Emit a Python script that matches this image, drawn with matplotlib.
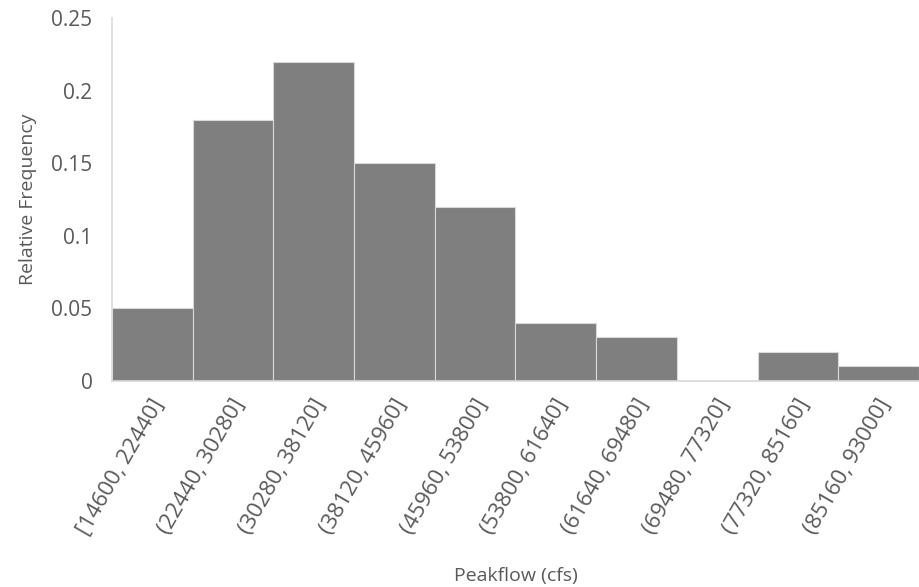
import matplotlib
matplotlib.use("Agg")
import matplotlib.pyplot as plt
import matplotlib.transforms as mtransforms
import numpy as np

plt.rcParams.update({
    'font.family': ['Open Sans', 'DejaVu Sans'],
    'text.color': '#595959',
})

bins = ['[14600, 22440]', '(22440, 30280]', '(30280, 38120]', '(38120, 45960]',
        '(45960, 53800]', '(53800, 61640]', '(61640, 69480]', '(69480, 77320]',
        '(77320, 85160]', '(85160, 93000]']
rel_freq = [0.05, 0.18, 0.22, 0.15, 0.12, 0.04, 0.03, 0.0, 0.02, 0.01]
yticks = [0, 0.05, 0.1, 0.15, 0.2, 0.25]
ytick_labels = ['0', '0.05', '0.1', '0.15', '0.2', '0.25']

fig = plt.figure(figsize=(9.19, 5.87), dpi=100)
ax = fig.add_axes([0.1219, 0.351, 0.878, 0.618])

x = np.arange(len(bins))
ax.bar(x, rel_freq, width=1.0, color='#7f7f7f', edgecolor='#d9d9d9', linewidth=0.8)
ax.set_xlim(-0.5, len(bins) - 0.5)
ax.set_ylim(0, 0.25)

ax.set_yticks(yticks)
ax.set_yticklabels(ytick_labels, fontsize=15, color='#595959')
ax.set_xticks(x)
ax.set_xticklabels(bins, fontsize=16, color='#595959', rotation=60,
                   ha='right', va='center', rotation_mode='anchor')
ax.tick_params(length=0)
ax.tick_params(axis='y', pad=14)
ax.tick_params(axis='x', pad=14)

# nudge the slanted bin labels a little to the right
shift = mtransforms.ScaledTranslation(5 / 72, 0, fig.dpi_scale_trans)
for lbl in ax.get_xticklabels():
    lbl.set_transform(lbl.get_transform() + shift)

for side in ['top', 'right']:
    ax.spines[side].set_visible(False)
for side in ['left', 'bottom']:
    ax.spines[side].set_color('#d9d9d9')
    ax.spines[side].set_linewidth(1.2)

ax.set_ylabel('Relative Frequency', fontsize=14, color='#595959', labelpad=10)
fig.text(0.561, 0.003, 'Peakflow (cfs)', fontsize=14, color='#595959',
         ha='center', va='bottom')

fig.savefig('out.png', dpi=100)
